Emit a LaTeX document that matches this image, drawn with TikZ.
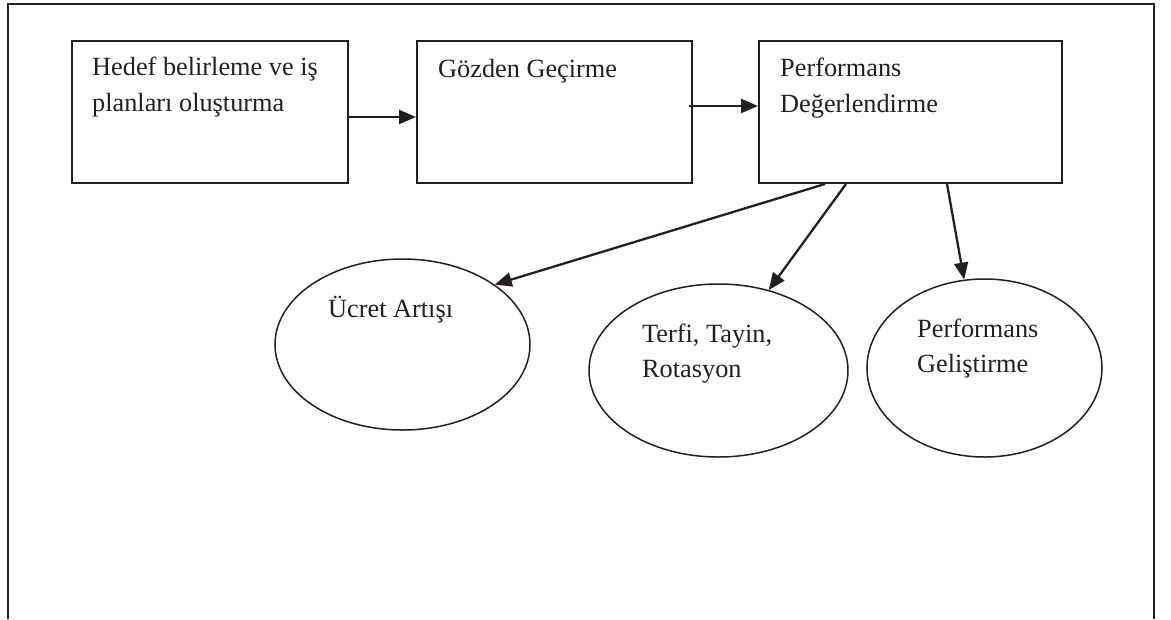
\documentclass[tikz,border=0pt]{standalone}
\usepackage{fontspec}
\setmainfont{Liberation Serif}
\usetikzlibrary{arrows.meta,shapes.geometric,calc}
\definecolor{ink}{HTML}{231F20}
\tikzset{
  box/.style={draw=ink, line width=2pt, rectangle, inner sep=0pt, minimum height=142pt},
  oval/.style={draw=ink, line width=1.5pt, ellipse, inner sep=0pt},
  lbl/.style={anchor=base west, inner sep=0pt, font=\fontsize{26.3}{36}\selectfont, text=ink},
  arr/.style={draw=ink, line width=2.3pt, -{Triangle[length=17pt,width=14pt]}},
  frame/.style={line width=1.6pt, draw=ink}
}
\begin{document}
\begin{tikzpicture}[x=1pt,y=-1pt]
\useasboundingbox (0,0) rectangle (1171,619);
\draw[frame] (8,619) -- (8,4) -- (1154,4) -- (1154,619);

\node[box, minimum width=276pt] (b1) at (210,112) {};
\node[box, minimum width=275pt] (b2) at (554.5,112) {};
\node[box, minimum width=303pt] (b3) at (910.5,112) {};

\node[oval, minimum width=255pt, minimum height=171pt] (e1) at (402.5,344.5) {};
\node[oval, minimum width=259pt, minimum height=173pt] (e2) at (718.5,370.5) {};
\node[oval, minimum width=235pt, minimum height=178pt] (e3) at (984.5,368) {};

\node[lbl] (t1a) at (92,75) {Hedef belirleme ve iş};
\node[lbl] (t1b) at (92,111) {planları oluşturma};
\node[lbl] (t2) at (438,77) {Gözden Geçirme};
\node[lbl] (t3a) at (780,76) {Performans};
\node[lbl] (t3b) at (780,112) {Değerlendirme};
\node[lbl] (t4) at (328,317) {Ücret Artışı};
\node[lbl] (t5a) at (642,342) {Terfi, Tayin,};
\node[lbl] (t5b) at (642,377) {Rotasyon};
\node[lbl] (t6a) at (917,337) {Performans};
\node[lbl] (t6b) at (917,372) {Geliştirme};

\draw[arr] ($(b1.east)+(0,5)$) -- ($(b2.west)+(0,5)$);
\draw[arr] ($(b2.east)+(-4,-6)$) -- ($(b3.west)+(0,-6)$);
\draw[arr] ($(b3.south west)+(67,0)$) -- (e1.33);
\draw[arr] ($(b3.south west)+(88,0)$) -- (e2.58);
\draw[arr] ($(b3.south west)+(189,0)$) -- (e3.103);
\end{tikzpicture}
\end{document}
